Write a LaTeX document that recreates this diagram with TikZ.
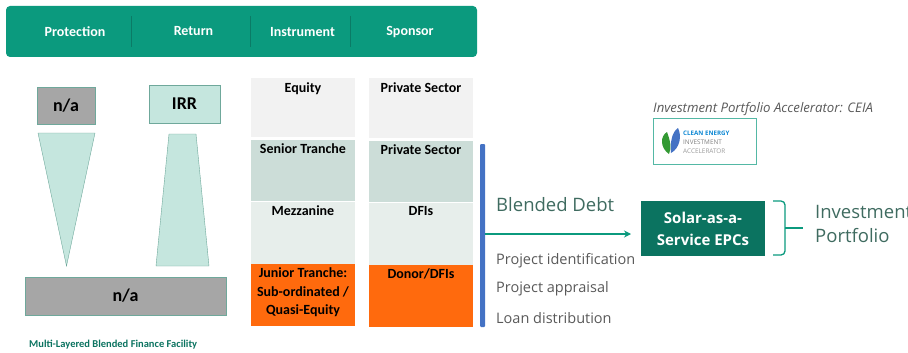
\documentclass[tikz,border=0pt]{standalone}
\usepackage{fontspec}
\setmainfont{Carlito}
\newfontfamily\segoe{Open Sans}
\usetikzlibrary{arrows.meta}
\usetikzlibrary{positioning}
\definecolor{hdrgreen}{HTML}{0B9A7E}
\definecolor{boxgreen}{HTML}{0B7360}
\definecolor{palegreen}{HTML}{C5E6DE}
\definecolor{edgegreen}{HTML}{6FA89B}
\definecolor{midgray}{HTML}{A6A6A6}
\definecolor{cellA}{HTML}{F2F2F2}
\definecolor{cellB}{HTML}{CCDDD8}
\definecolor{cellC}{HTML}{E7EEEB}
\definecolor{cellD}{HTML}{FF6A0D}
\definecolor{barblue}{HTML}{4472C4}
\definecolor{txtgreen}{HTML}{3F6B60}
\definecolor{txtgray}{HTML}{595959}

\begin{document}
\begin{tikzpicture}[x=1pt,y=-1pt,node distance=1pt,
    hdr node/.style={text=white,font=\fontsize{14}{14}\selectfont\bfseries},
    hdr sep/.style={draw=boxgreen!80!hdrgreen,thin},
    cap node/.style={draw=edgegreen,thin,inner sep=0pt,font=\fontsize{18}{18}\selectfont\bfseries},
    wedge/.style={draw=edgegreen,thin,fill=palegreen},
    cell/.style={minimum width=104pt,minimum height=#1,inner sep=0pt,outer sep=0pt},
    cell text/.style={anchor=north,align=center,yshift=-3pt,inner sep=1pt,
      font=\fontsize{14}{18.5}\selectfont\bfseries},
    side node/.style={anchor=west,inner sep=0pt,text=txtgray,font=\segoe\fontsize{14.5}{14.5}\selectfont},
    big node/.style={anchor=west,inner sep=0pt,text=txtgreen,font=\segoe\fontsize{18.5}{24}\selectfont,align=left},
    logo text/.style={anchor=west,inner sep=0pt,font=\segoe\fontsize{6.4}{6.4}\selectfont}
    ]
    \useasboundingbox (0,0) rectangle (908,353);

    % header band
    \node[fill=hdrgreen,rounded corners=4pt,minimum width=471pt,minimum height=51pt,inner sep=0pt](hdr) at (241.5,31.5){};
    \node[hdr node](prot) at (75,32){Protection};
    \node[hdr node](ret) at (193.5,31.5){Return};
    \node[hdr node](inst) at (302.5,32){Instrument};
    \node[hdr node](spon) at (410,32){Sponsor};
    \draw[hdr sep] (131,16) -- (131,47);
    \draw[hdr sep] (250,16) -- (250,47);
    \draw[hdr sep] (350,16) -- (350,47);

    % protection and return
    \node[cap node,fill=midgray,minimum width=58pt,minimum height=37pt](napro) at (66,105.5){n/a};
    \node[cap node,fill=palegreen,minimum width=71pt,minimum height=38pt](irr) at (184.5,104){IRR};
    \draw[wedge] (38,133) -- (95,133) -- (66.5,266) -- cycle;
    \draw[wedge] (169,134) -- (196,134) -- (209,266) -- (156,266) -- cycle;
    \node[cap node,fill=midgray,minimum width=201pt,minimum height=38pt](nabar) at (125.5,296){n/a};

    % instrument column
    \node[cell=59pt,fill=cellA](equity) at (303,107.5){};
    \node[cell=61pt,fill=cellB,below=2.5pt of equity](senior){};
    \node[cell=62pt,fill=cellC,below=1pt of senior](mezz){};
    \node[cell=62pt,fill=cellD,below=0pt of mezz](junior){};
    \node[cell text](equityt) at (equity.north){Equity};
    \node[cell text](seniort) at (senior.north){Senior Tranche};
    \node[cell text](mezzt) at (mezz.north){Mezzanine};
    \node[cell text](juniort) at (junior.north){Junior Tranche:\\Sub-ordinated /\\Quasi-Equity};

    % sponsor column
    \node[cell=60pt,fill=cellA](priv) at (421,108){};
    \node[cell=61pt,fill=cellB,below=2.5pt of priv](privb){};
    \node[cell=62pt,fill=cellC,below=1pt of privb](dfi){};
    \node[cell=62pt,fill=cellD,below=0pt of dfi](donor){};
    \node[cell text](privt) at (priv.north){Private Sector};
    \node[cell text](privbt) at (privb.north){Private Sector};
    \node[cell text](dfit) at (dfi.north){DFIs};
    \node[cell text](donort) at (donor.north){Donor/DFIs};

    \node[anchor=west,inner sep=0pt,text=boxgreen,font=\fontsize{10.5}{10.5}\selectfont\bfseries](facility) at (29,345){Multi-Layered Blended Finance Facility};

    % debt bar and arrow
    \node[fill=barblue,rounded corners=1pt,minimum width=5pt,minimum height=183pt,inner sep=0pt,outer sep=0pt](bar) at (482.5,235.5){};
    \node[fill=boxgreen,text=white,minimum width=124pt,minimum height=55pt,inner sep=0pt,align=center,
      font=\segoe\fontsize{15}{22}\selectfont\bfseries](epc) at (703,228.5){Solar-as-a-\\Service EPCs};
    \coordinate (tip) at (631,234);
    \draw[-{Stealth[length=7pt,width=7pt]},draw=hdrgreen,fill=hdrgreen,line width=1.6pt] (bar.east |- tip) -- (tip);
    \node[big node](debt) at (496,205){Blended Debt};
    \node[side node](ident) at (496,261){Project identification};
    \node[side node](appr) at (496,289){Project appraisal};
    \node[side node](loan) at (496,318){Loan distribution};

    % brace
    \coordinate (bt) at (773,201);
    \coordinate (bb) at (773,255);
    \coordinate (bm) at (785,228);
    \coordinate (be) at (803,228);
    \draw[hdrgreen,line width=1.3pt,rounded corners=4pt] (bt) -- (bm |- bt) -- (bm |- bb) -- (bb);
    \draw[hdrgreen,line width=1.3pt] (bm) -- (be);
    \node[big node](port) at (815,224){Investment\\Portfolio};

    % accelerator logo
    \node[anchor=west,inner sep=0pt,text=txtgray,font=\segoe\itshape\fontsize{13.2}{13.2}\selectfont](ceia) at (653,109){Investment Portfolio Accelerator: CEIA};
    \node[draw=hdrgreen!70!white,thick,minimum width=103pt,minimum height=46pt,inner sep=0pt](logo) at (705,141){};
    \fill[green!50!black!80] (669,154) .. controls (660,148) and (660,136) .. (667,132) .. controls (670,140) and (672,148) .. (669,154);
    \fill[barblue] (671,153) .. controls (670,142) and (672,132) .. (678,128) .. controls (682,136) and (680,148) .. (671,153);
    \node[logo text,text=cyan!70!blue,font=\segoe\bfseries\fontsize{6.2}{6.2}\selectfont](lga) at (683,133){CLEAN ENERGY};
    \node[logo text,text=gray](lgb) at (683,142){INVESTMENT};
    \node[logo text,text=gray!80](lgc) at (683,151){ACCELERATOR};
\end{tikzpicture}
\end{document}
